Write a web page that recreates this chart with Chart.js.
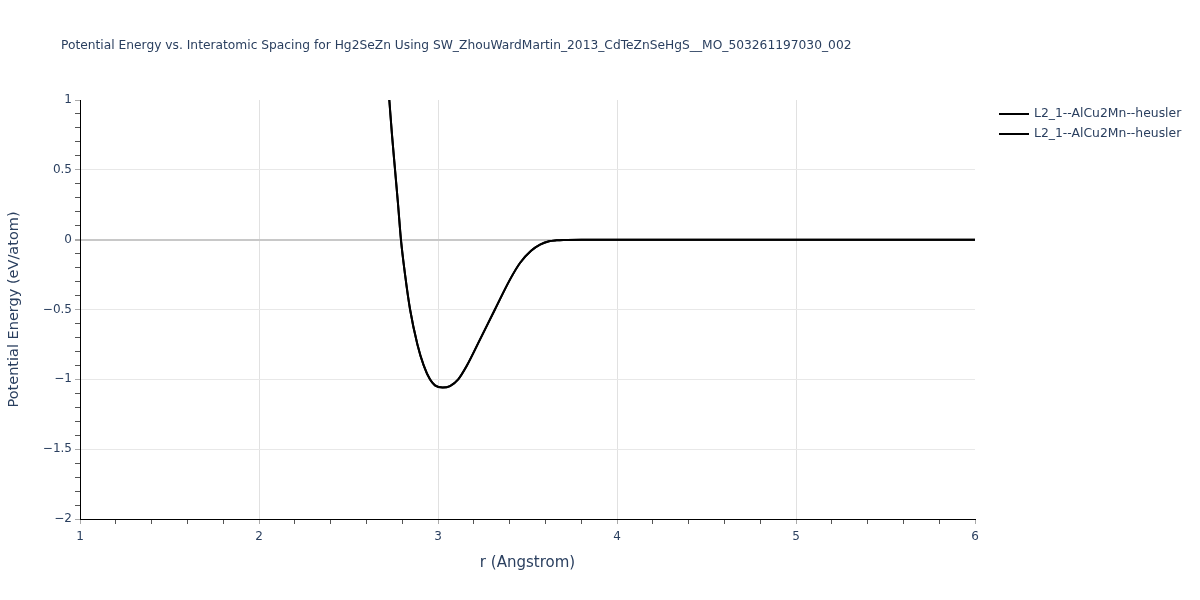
<!DOCTYPE html>
<html>
<head>
<meta charset="utf-8">
<script src="https://cdn.jsdelivr.net/npm/chart.js@4"></script>
<style>
  html, body { margin: 0; padding: 0; background: #fff; }
  #wrap { position: relative; width: 1200px; height: 600px; }
</style>
</head>
<body>
<div id="wrap"><canvas id="pe" width="1200" height="600"></canvas></div>
<script>
// values
var titleText = "Potential Energy vs. Interatomic Spacing for Hg2SeZn Using SW_ZhouWardMartin_2013_CdTeZnSeHgS__MO_503261197030_002";
var seriesNames = ["L2_1--AlCu2Mn--heusler", "L2_1--AlCu2Mn--heusler"];
var rValues = [2.70, 2.728, 2.743, 2.760, 2.777, 2.793, 2.816, 2.844, 2.885, 2.92, 2.955, 2.983, 3.026, 3.067, 3.113,
  3.160, 3.235, 3.318, 3.402, 3.458, 3.52, 3.570, 3.62, 3.663, 3.70, 3.8, 4.0, 4.5, 5.0, 5.5, 6.0];
var energies = [1.45, 1.0, 0.75, 0.5, 0.25, 0.0, -0.25, -0.5, -0.75, -0.9, -1.0, -1.043, -1.059, -1.048, -1.0,
  -0.905, -0.714, -0.5, -0.286, -0.167, -0.08, -0.036, -0.012, -0.005, -0.002, 0, 0, 0, 0, 0, 0];
var xTickLabels = [1, 2, 3, 4, 5, 6];
var yTickLabels = [1, 0.5, 0, -0.5, -1, -1.5, -2];

var FONT = "'DejaVu Sans', Verdana, sans-serif";
var TXT = "#2a3f5f";

function pts() {
  var out = [];
  for (var i = 0; i < rValues.length; i++) out.push({ x: rValues[i], y: energies[i] });
  return out;
}
function isMajorX(v) { return xTickLabels.some(function (t) { return Math.abs(t - v) < 1e-6; }); }
function isMajorY(v) { return yTickLabels.some(function (t) { return Math.abs(t - v) < 1e-6; }); }
function fmt(v) { return String(v).replace("-", "\u2212"); }

var decor = {
  id: "decor",
  afterDraw: function (chart) {
    var ctx = chart.ctx, a = chart.chartArea;
    ctx.save();
    ctx.fillStyle = TXT;
    ctx.font = "12.25px " + FONT;
    ctx.textAlign = "left";
    ctx.textBaseline = "middle";
    ctx.fillText(titleText, 61, 46);

    ctx.font = "15px " + FONT;
    ctx.textAlign = "center";
    ctx.fillText("r (Angstrom)", (a.left + a.right) / 2, 563);
    ctx.font = "14.5px " + FONT;
    ctx.translate(14, (a.top + a.bottom) / 2);
    ctx.rotate(-Math.PI / 2);
    ctx.fillText("Potential Energy (eV/atom)", 0, 0);
    ctx.restore();

    ctx.save();
    ctx.font = "12.4px " + FONT;
    ctx.textBaseline = "middle";
    for (var i = 0; i < seriesNames.length; i++) {
      var y = 114 + i * 20;
      ctx.strokeStyle = "#000";
      ctx.lineWidth = 2;
      ctx.beginPath();
      ctx.moveTo(999, y);
      ctx.lineTo(1029, y);
      ctx.stroke();
      ctx.fillStyle = TXT;
      ctx.fillText(seriesNames[i], 1034, y);
    }
    ctx.restore();
  }
};

new Chart(document.getElementById("pe"), {
  type: "line",
  data: {
    datasets: seriesNames.map(function (n) {
      return {
        label: n,
        data: pts(),
        borderColor: "#000",
        borderWidth: 2,
        pointRadius: 0,
        cubicInterpolationMode: "monotone",
        fill: false
      };
    })
  },
  options: {
    responsive: false,
    animation: false,
    layout: { padding: { left: 0, top: 100, right: 225, bottom: 0 } },
    plugins: { legend: { display: false }, title: { display: false }, tooltip: { enabled: false } },
    scales: {
      x: {
        type: "linear",
        min: 1,
        max: 6,
        afterFit: function (s) { s.height = 81; },
        border: { display: true, color: "#000", width: 1 },
        grid: {
          tickLength: 5,
          color: function (c) {
            var v = c.tick.value;
            if (!isMajorX(v) || v === 1 || v === 6) return "rgba(0,0,0,0)";
            return "#e1e1e1";
          },
          tickColor: function (c) { return isMajorX(c.tick.value) ? "#aaa" : "#555"; }
        },
        ticks: {
          stepSize: 0.2,
          autoSkip: false,
          maxRotation: 0,
          padding: 6,
          color: TXT,
          font: { family: FONT, size: 12 },
          callback: function (v) { return isMajorX(v) ? fmt(Math.round(v)) : ""; }
        }
      },
      y: {
        type: "linear",
        min: -2,
        max: 1,
        afterFit: function (s) { s.width = 80; },
        border: { display: true, color: "#000", width: 1 },
        grid: {
          tickLength: 5,
          color: function (c) {
            var v = c.tick.value;
            if (!isMajorY(v) || Math.abs(v - 1) < 1e-6 || Math.abs(v + 2) < 1e-6) return "rgba(0,0,0,0)";
            return Math.abs(v) < 1e-6 ? "#c8c8c8" : "#e8e8e8";
          },
          lineWidth: function (c) { return Math.abs(c.tick.value) < 1e-6 ? 2 : 1; },
          tickColor: function (c) { return isMajorY(c.tick.value) ? "#aaa" : "#555"; }
        },
        ticks: {
          stepSize: 0.1,
          autoSkip: false,
          padding: 3,
          color: TXT,
          font: { family: FONT, size: 12 },
          callback: function (v) { return isMajorY(v) ? fmt(Math.round(v * 2) / 2) : ""; }
        }
      }
    }
  },
  plugins: [decor]
});
</script>
</body>
</html>
